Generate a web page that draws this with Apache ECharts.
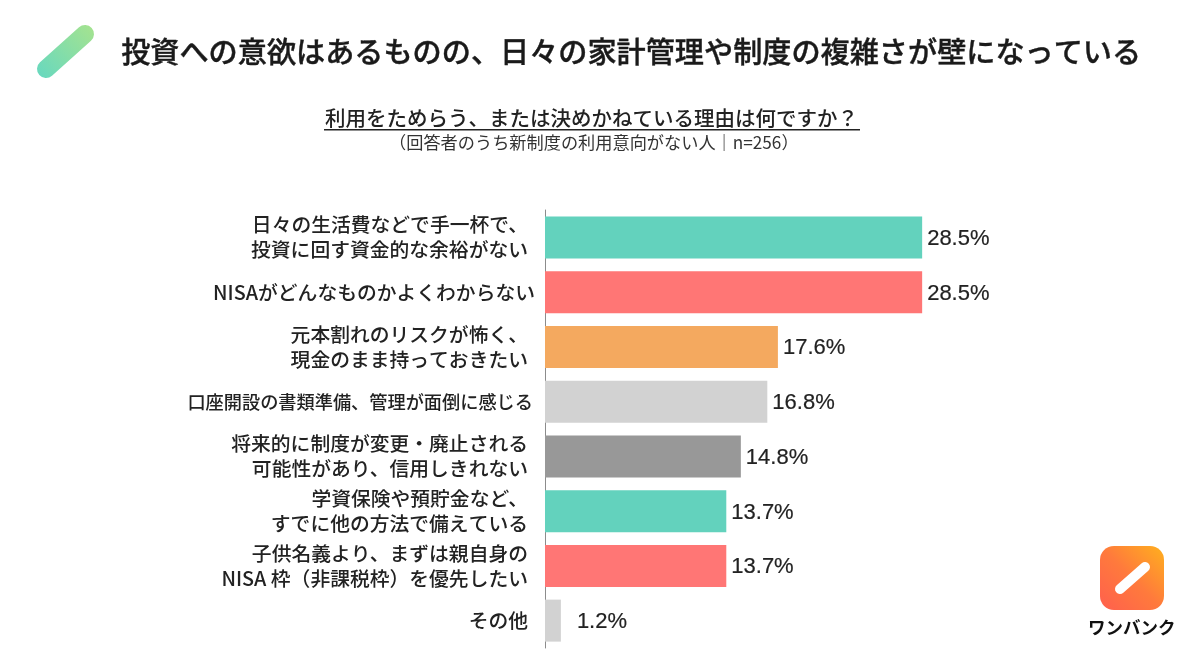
<!DOCTYPE html>
<html>
<head>
<meta charset="utf-8">
<title>利用をためらう理由</title>
<style>
html,body{margin:0;padding:0;background:#fff;}
#main{width:1200px;height:668px;}
</style>
<script src="https://cdn.jsdelivr.net/npm/echarts@6/dist/echarts.min.js"></script>
</head>
<body>
<div id="main"></div>
<script>
var categories = [
    '日々の生活費などで手一杯で、\n投資に回す資金的な余裕がない',
    'NISAがどんなものかよくわからない',
    '元本割れのリスクが怖く、\n現金のまま持っておきたい',
    '口座開設の書類準備、管理が面倒に感じる',
    '将来的に制度が変更・廃止される\n可能性があり、信用しきれない',
    '学資保険や預貯金など、\nすでに他の方法で備えている',
    '子供名義より、まずは親自身の\nNISA 枠（非課税枠）を優先したい',
    'その他'
];
var values = [28.5, 28.5, 17.6, 16.8, 14.8, 13.7, 13.7, 1.2];
var barColors = ['#63D2BD', '#FF7675', '#F4A95F', '#D2D2D2', '#989898', '#63D2BD', '#FF7675', '#D2D2D2'];

var titleText = '投資への意欲はあるものの、日々の家計管理や制度の複雑さが壁になっている';
var subTitleText = '利用をためらう、または決めかねている理由は何ですか？';
var noteText = '（回答者のうち新制度の利用意向がない人｜n=256）';

var cjkFont = '"Noto Sans CJK JP", sans-serif';

var myChart = echarts.init(document.getElementById('main'));

// the long single-line labels sit differently in the source slide
function categoryItem(name, i) {
    if (i === 1) {
        return { value: name, textStyle: { padding: [2, 0, 0, 0] } };
    }
    if (i === 3) {
        return { value: name, textStyle: { fontSize: 18.2, padding: [2, 2, 0, 0] } };
    }
    return name;
}

var option = {
    backgroundColor: '#fff',
    animation: false,
    grid: {
        left: 545,
        top: 210,
        width: 397,
        height: 438
    },
    xAxis: {
        type: 'value',
        min: 0,
        max: 30,
        show: false
    },
    yAxis: {
        type: 'category',
        inverse: true,
        data: categories.map(categoryItem),
        axisTick: { show: false },
        axisLine: { lineStyle: { color: '#8c8c8c', width: 1 } },
        axisLabel: {
            margin: 10,
            padding: [2, 7, 0, 0],
            color: '#222',
            fontFamily: cjkFont,
            fontWeight: 500,
            fontSize: 19.8,
            lineHeight: 25,
            align: 'right'
        }
    },
    series: [{
        type: 'bar',
        barWidth: 42,
        data: values.map(function (v, i) {
            return {
                value: v,
                itemStyle: { color: barColors[i] },
                // the small bar has its label set further out
                label: { distance: v < 5 ? 16 : 5 }
            };
        }),
        label: {
            show: true,
            position: 'right',
            offset: [0, 1.5],
            color: '#222',
            fontFamily: '"Liberation Sans", sans-serif',
            fontSize: 22,
            textBorderColor: '#222',
            textBorderWidth: 0.2,
            formatter: function (p) { return p.value.toFixed(1) + '%'; }
        }
    }],
    graphic: [
        {
            type: 'text',
            left: 121,
            top: 37,
            style: { text: titleText, fill: '#1a1a1a', font: '500 29.15px ' + cjkFont, stroke: '#1a1a1a', lineWidth: 0.4 }
        },
        {
            type: 'text',
            left: 325,
            top: 108,
            style: { text: subTitleText, fill: '#222', font: '500 20.5px ' + cjkFont }
        },
        {
            type: 'rect',
            shape: { x: 324, y: 129, width: 536, height: 1.5 },
            style: { fill: '#222' }
        },
        {
            type: 'text',
            left: 389,
            top: 134,
            style: { text: noteText, fill: '#333', font: '400 17.2px ' + cjkFont }
        },
        {
            type: 'line',
            shape: { x1: 46, y1: 69, x2: 85, y2: 34 },
            style: {
                lineWidth: 18,
                lineCap: 'round',
                stroke: new echarts.graphic.LinearGradient(0, 1, 1, 0, [
                    { offset: 0, color: '#66D8C0' },
                    { offset: 1, color: '#A6E38E' }
                ])
            }
        },
        {
            type: 'rect',
            shape: { x: 1100, y: 546, width: 64, height: 64, r: 14 },
            style: {
                fill: new echarts.graphic.LinearGradient(0, 1, 1, 0, [
                    { offset: 0, color: '#FF5F4E' },
                    { offset: 0.5, color: '#FF7A3C' },
                    { offset: 1, color: '#FFB01E' }
                ])
            }
        },
        {
            type: 'line',
            shape: { x1: 1120, y1: 589, x2: 1145, y2: 567 },
            style: { lineWidth: 10, lineCap: 'round', stroke: '#fff' }
        },
        {
            type: 'text',
            left: 1088,
            top: 619,
            style: { text: 'ワンバンク', fill: '#111', font: '700 17.5px ' + cjkFont }
        }
    ]
};

myChart.setOption(option);
</script>
</body>
</html>
